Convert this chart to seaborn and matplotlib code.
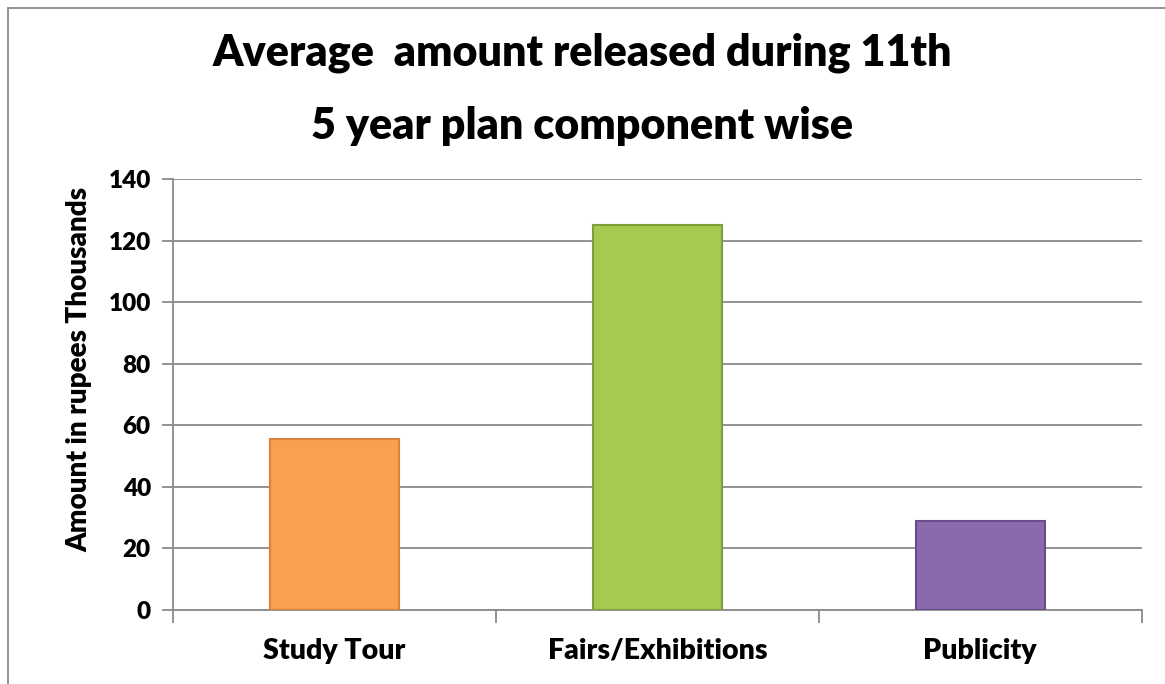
import matplotlib
matplotlib.use("Agg")
import matplotlib.pyplot as plt
import seaborn as sns
import pandas as pd
from matplotlib.lines import Line2D

categories = ["Study Tour", "Fairs/Exhibitions", "Publicity"]
values = [55.5, 125, 29]
colors = ["#F9A04E", "#A5CA4F", "#8A6AAD"]
edge_colors = ["#D9803A", "#7E9E3A", "#6A4E8C"]
yticks = [0, 20, 40, 60, 80, 100, 120, 140]
title = "Average  amount released during 11th\n5 year plan component wise"
ylabel = "Amount in rupees Thousands"

sns.set_theme(style="white")
plt.rcParams['font.family'] = ['Lato', 'DejaVu Sans']
plt.rcParams['text.color'] = 'black'
plt.rcParams['axes.labelcolor'] = 'black'
plt.rcParams['xtick.color'] = 'black'
plt.rcParams['ytick.color'] = 'black'

df = pd.DataFrame({"cat": categories, "val": values})

fig = plt.figure(figsize=(11.65, 6.84), dpi=100)
ax = fig.add_axes([0.1485, 0.1082, 0.8315, 0.6301])

sns.barplot(data=df, x="cat", y="val", hue="cat", palette=colors, legend=False,
            width=0.4, ax=ax, saturation=1, zorder=3)
for p, ec in zip(ax.patches, edge_colors):
    p.set_edgecolor(ec)
    p.set_linewidth(1.5)

W = 'heavy'
ax.set_ylim(0, 140)
ax.set_xlim(-0.5, 2.5)
ax.set_yticks(yticks)
ax.set_yticklabels([str(t) for t in yticks], fontsize=17.5, fontweight=W, color='black')
ax.set_xticks(range(len(categories)))
ax.set_xticklabels(categories, fontsize=20.5, fontweight=W, color='black')
ax.set_xticks([-0.5, 0.5, 1.5, 2.5], minor=True)
ax.tick_params(axis='x', which='major', length=0, pad=20)
ax.tick_params(axis='x', which='minor', length=9, width=1.3, color='#8a8a8a', direction='out', bottom=True)
ax.tick_params(axis='y', which='major', length=8, width=1.3, color='#8a8a8a', direction='out', left=True, pad=8)
ax.set_xlabel("")
ax.set_ylabel(ylabel, fontsize=20, fontweight=W, color='black')
ax.yaxis.set_label_coords(-0.083, 0.557)
ax.yaxis.grid(True, color='#8a8a8a', linewidth=1.3, zorder=0)
ax.xaxis.grid(False)
ax.set_axisbelow(True)
for s in ["top", "right"]:
    ax.spines[s].set_visible(False)
for s in ["left", "bottom"]:
    ax.spines[s].set_color('#8a8a8a')
    ax.spines[s].set_linewidth(1.3)

fig.text(0.5, 0.953, title, ha='center', va='top', fontsize=31, fontweight=W,
         linespacing=2.0, color='black')

# outer chart border (left and top)
fig.add_artist(Line2D([8/1165, 8/1165], [0, 1 - 8/684], transform=fig.transFigure, color='#8a8a8a', lw=1.3))
fig.add_artist(Line2D([8/1165, 1], [1 - 8/684, 1 - 8/684], transform=fig.transFigure, color='#8a8a8a', lw=1.3))

fig.savefig("out.png", dpi=100, facecolor='white')
